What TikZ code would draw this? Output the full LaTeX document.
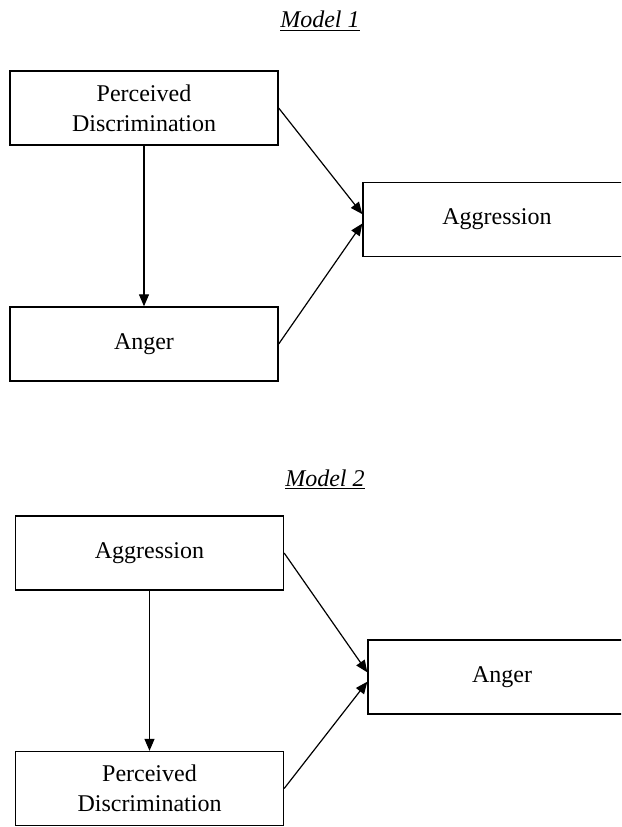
\documentclass[tikz,border=0pt]{standalone}
\usepackage{fontspec}
\setmainfont{Liberation Serif}
\usetikzlibrary{arrows.meta}

\begin{document}
\begin{tikzpicture}[x=0.75pt,y=-0.75pt,
    box/.style={rectangle,draw,line width=1pt,minimum width=201pt,minimum height=55.5pt,inner sep=0pt,align=center,font=\fontsize{18}{22.5}\selectfont},
    link/.style={-{Triangle[length=9pt,width=7.5pt]},line width=0.9pt},
    title/.style={anchor=base,font=\fontsize{18}{22}\selectfont}]
\useasboundingbox (0,0) rectangle (621,827);
\clip (0,0) rectangle (621,827);
% Model 1
\node[title] (t1) at (320,28) {\underline{\textit{Model 1}}};
\node[box] (pd1) at (144,108) {Perceived\\Discrimination};
\node[box] (ang1) at (144,344) {Anger};
\node[box] (agg1) at (497,219.5) {Aggression};
\draw[link] (pd1) -- (ang1);
\draw[link] (pd1.east) -- ([yshift=4pt]agg1.west);
\draw[link] (ang1.east) -- ([yshift=-3pt]agg1.west);
% Model 2
\node[title] (t2) at (325,486) {\underline{\textit{Model 2}}};
\node[box] (agg2) at (149.5,553) {Aggression};
\node[box] (ang2) at (502,677) {Anger};
\node[box] (pd2) at (149.5,788.5) {Perceived\\Discrimination};
\draw[link] (agg2) -- (pd2);
\draw[link] (agg2.east) -- ([yshift=3.5pt]ang2.west);
\draw[link] (pd2.east) -- ([yshift=-3.5pt]ang2.west);
\end{tikzpicture}
\end{document}
